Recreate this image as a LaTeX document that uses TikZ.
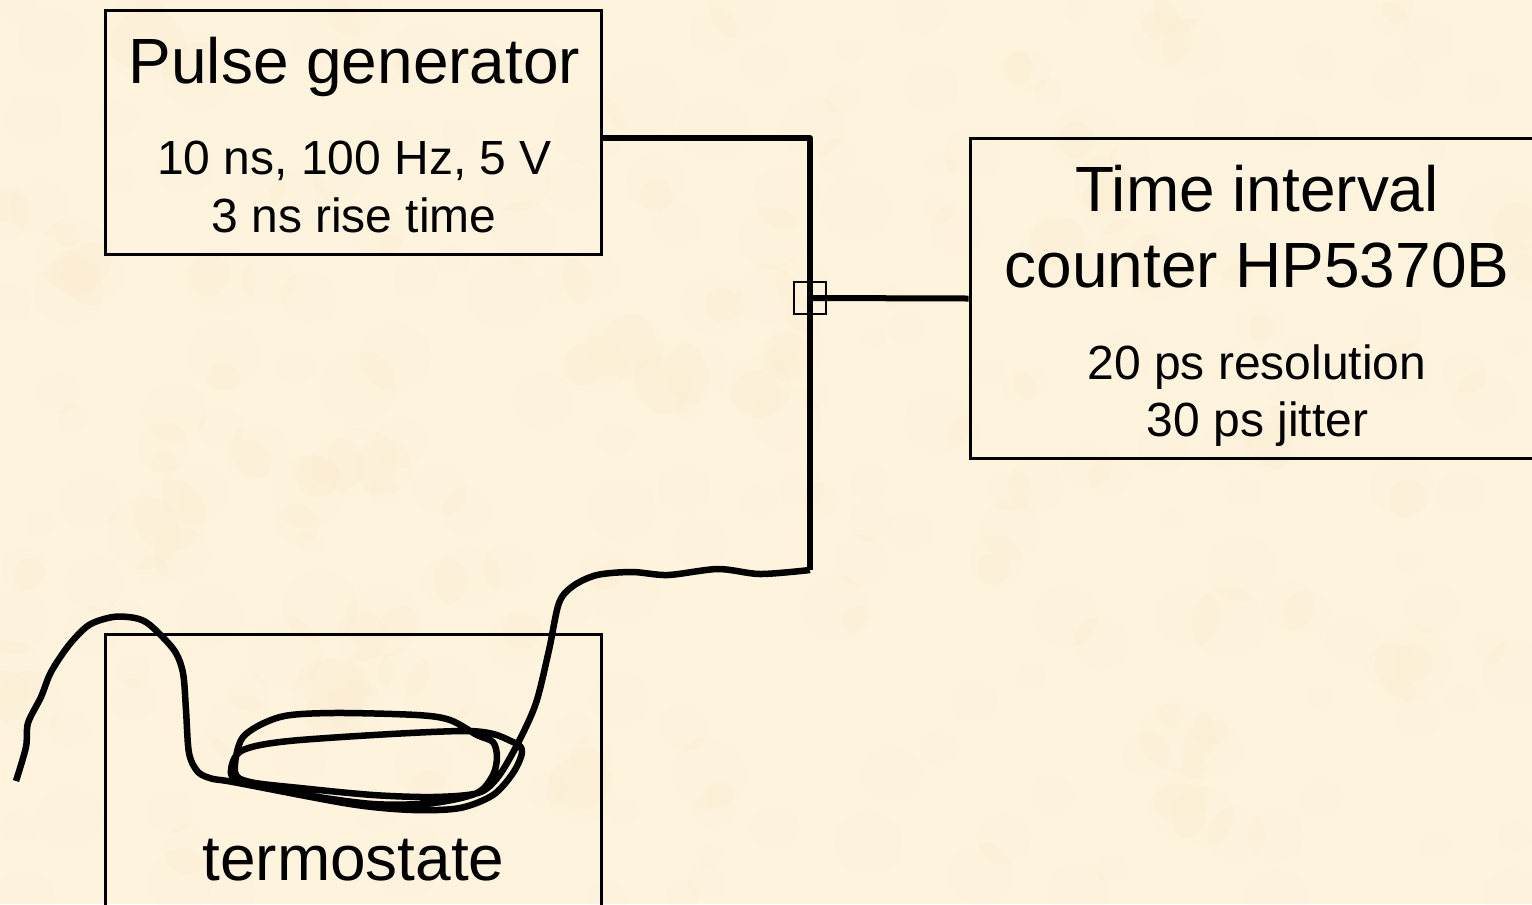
\documentclass[tikz,border=0pt]{standalone}
\usepackage{fontspec}
\setmainfont{Liberation Sans}
\definecolor{paper}{HTML}{FEF4DE}
\definecolor{blotch}{HTML}{FBE9C8}
\tikzset{
  box/.style={draw,line width=0.06cm,inner sep=0pt},
  wire/.style={line width=0.12cm,line join=round},
  coil/.style={line width=0.13cm,line join=round},
  bigtext/.style={anchor=base,inner sep=0pt,font=\fontsize{36.4}{40}\selectfont},
  smalltext/.style={anchor=base,inner sep=0pt,font=\fontsize{27.3}{30}\selectfont}
}
\begin{document}
\begin{tikzpicture}[x=0.02cm,y=-0.02cm]
\clip (0,0) rectangle (1532,904);
\fill [paper](0,0) rectangle (1532,904);
% paper grain
\pgfmathsetseed{11}
\foreach \i in {1,...,320}
  \fill [blotch,opacity=0.12] ({rnd*1532},{rnd*904}) circle [radius={12+26*rnd}];
% boxes
\node [box,minimum width=9.94cm,minimum height=4.88cm] (pulse) at (353.5,132.7) {};
\node [box,minimum width=11.6cm,minimum height=6.42cm] (counter) at (1260,298.5) {};
\node [box,minimum width=9.94cm,minimum height=6.52cm] (thermo) at (353.5,797) {};
\node [draw,line width=0.035cm,inner sep=0pt,minimum size=0.64cm] (tee) at (810,298) {};
% texts
\node [bigtext] (pulsetitle) at (354.5,83) {Pulse generator};
\node [smalltext] (pulseone) at (354.5,174) {10 ns, 100 Hz, 5 V};
\node [smalltext] (pulsetwo) at (354,232) {3 ns rise time};
\node [bigtext] (countertitle) at (1257,211) {Time interval};
\node [bigtext] (countername) at (1257,287) {counter HP5370B};
\node [smalltext] (counterone) at (1257,379) {20 ps resolution};
\node [smalltext] (countertwo) at (1257.5,436) {30 ps jitter};
\node [bigtext] (thermotitle) at (353.5,880) {termostate};
% wires
\coordinate (top) at (810,138);
\coordinate (low) at (810,570);
\coordinate (tail) at (16,781);
\draw [wire](pulse.east |- top) -- (top) -- (low);
\draw [wire](tee.center) -- (counter.west);
\draw [coil] plot [smooth,tension=0.5] coordinates {(low) (760,574) (718,569) (668,575) (632,572) (597,575) (573,586) (559,603) (549,650) (536,703) (518,743) (498,777) (478,793)
  (433,797) (373,795) (300,788) (250,782) (235,772) (243,737) (280,717) (333,713) (417,715) (450,720) (477,735) (493,742) (497,757) (493,775) (477,793)
  (433,803) (373,804) (300,794) (240,781) (231,770) (243,750) (300,740) (467,731) (513,742) (522,752) (513,773) (493,795) (460,808) (413,810) (350,804) (233,782)
  (213,779) (198,772) (189,753) (186,710) (183,673) (174,650) (150,625) (135,618) (113,617) (89,625) (69,645) (51,672) (41,697) (28,723) (26,747) (tail)};
\end{tikzpicture}
\end{document}
